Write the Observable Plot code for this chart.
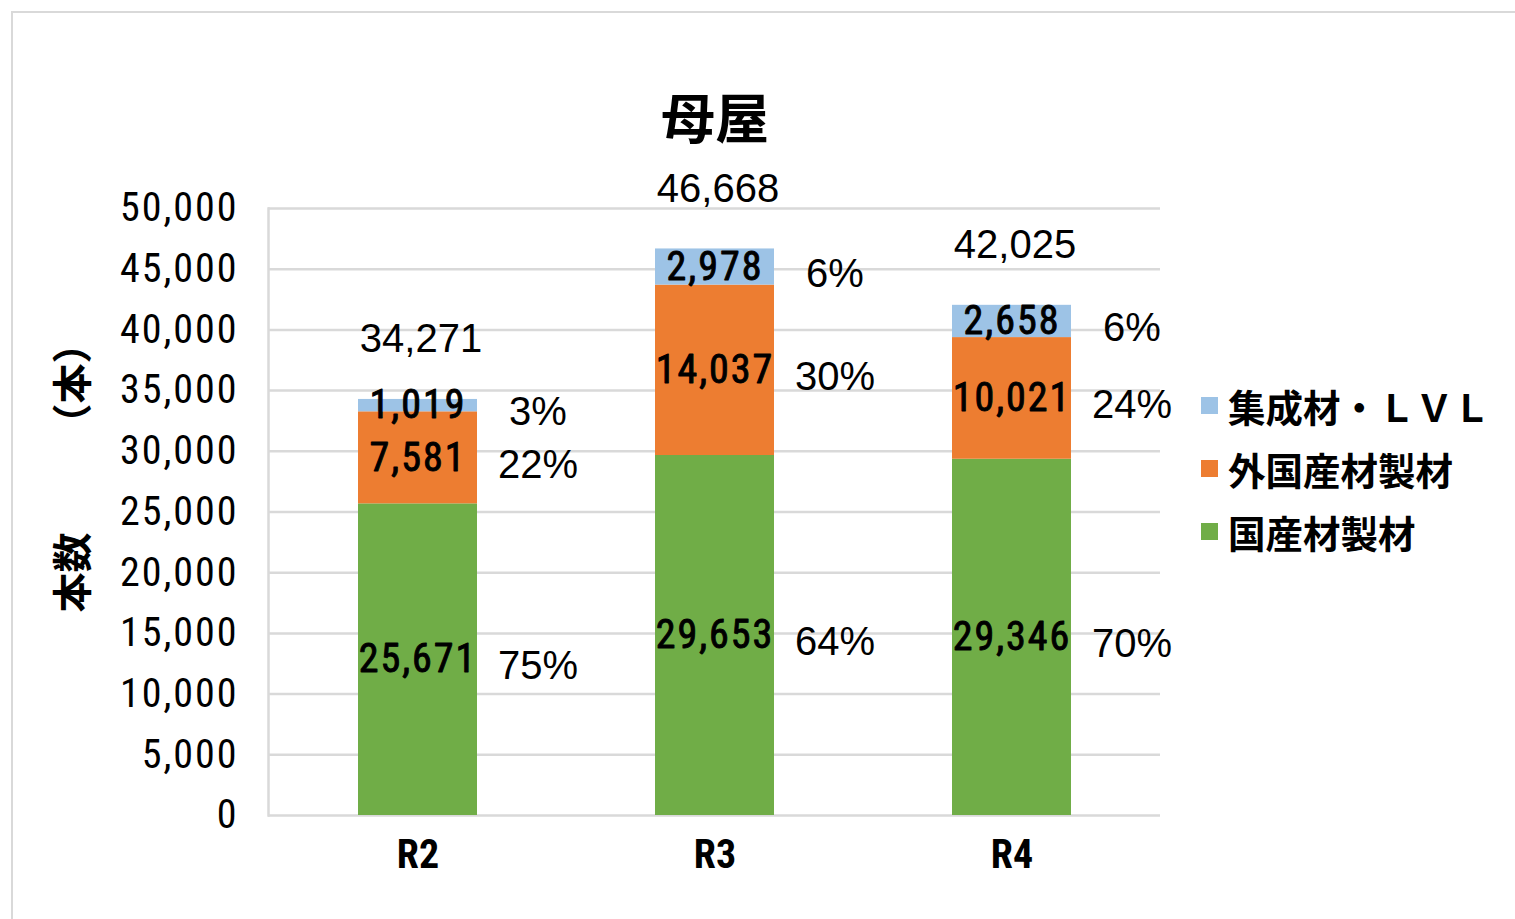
<!DOCTYPE html>
<html>
<head>
<meta charset="utf-8">
<script src="https://cdn.jsdelivr.net/npm/d3@7"></script>
<script src="https://cdn.jsdelivr.net/npm/@observablehq/plot@0.6"></script>
<style>
  html, body { margin: 0; padding: 0; background: #fff; overflow: hidden; }
  #wrap { position: relative; width: 1515px; height: 919px; overflow: hidden; }
  #frame { position: absolute; left: 11px; top: 11px; width: 1600px; height: 1000px; border: 2.5px solid #d9d9d9; box-sizing: border-box; }
  #chart { position: absolute; left: 0; top: 0; }
  #title { position: absolute; left: 715px; top: 115px; transform: translate(-50%, -50%); font-family: "Noto Sans CJK JP", sans-serif; font-weight: bold; font-size: 54px; white-space: nowrap; color: #000; }
  #ylabel { position: absolute; left: 70px; top: 468px; transform: translate(-50%, -50%) rotate(-90deg); font-family: "Noto Sans CJK JP", sans-serif; font-weight: bold; font-size: 40px; white-space: nowrap; color: #000; }
  .leg { position: absolute; left: 1201px; height: 0; display: flex; align-items: center; white-space: nowrap; }
  .leg .sw { width: 17px; height: 17px; margin-right: 10px; flex: none; }
  .leg .tx { font-family: "Noto Sans CJK JP", sans-serif; font-weight: bold; font-size: 37.5px; color: #000; }
</style>
</head>
<body>
<div id="wrap">
  <div id="frame"></div>
  <div id="chart"></div>
  <div id="title"></div>
  <div id="ylabel"></div>
  <div id="legend"></div>
</div>
<script>
const titleText = "母屋";
const yLabelText = "本数　　 （本）";
const categories = ["R2", "R3", "R4"];
const seriesNames = ["国産材製材", "外国産材製材", "集成材・ＬＶＬ"];
const seriesColors = ["#70AD47", "#ED7D31", "#9DC3E6"];
const domestic = [25671, 29653, 29346];
const imported = [7581, 14037, 10021];
const glulam = [1019, 2978, 2658];
const yTicks = [0, 5000, 10000, 15000, 20000, 25000, 30000, 35000, 40000, 45000, 50000];
const legendOrder = ["集成材・ＬＶＬ", "外国産材製材", "国産材製材"];

const seriesValues = [domestic, imported, glulam];
const rows = [];
categories.forEach((c, i) => {
  const total = domestic[i] + imported[i] + glulam[i];
  seriesNames.forEach((s, j) => {
    rows.push({cat: c, series: s, value: seriesValues[j][i], pct: Math.round(seriesValues[j][i] / total * 100) + "%"});
  });
});
const totals = categories.map((c, i) => ({cat: c, total: domestic[i] + imported[i] + glulam[i]}));

const fmt = d3.format(",");
const narrow = "'Liberation Sans Narrow', 'Arial Narrow', 'Roboto Condensed', sans-serif";
const regular = "'Liberation Sans', Arial, sans-serif";

const plot = Plot.plot({
  width: 1515,
  height: 919,
  marginLeft: 268,
  marginRight: 355,
  marginTop: 208,
  marginBottom: 104,
  style: {background: "transparent", color: "#000"},
  x: {domain: categories, paddingInner: 0.6, paddingOuter: 0.3, label: null},
  y: {domain: [0, 50000], label: null},
  color: {domain: seriesNames, range: seriesColors},
  marks: [
    Plot.ruleY(yTicks, {stroke: "#d9d9d9", strokeWidth: 2.5}),
    Plot.frame({anchor: "left", stroke: "#d9d9d9", strokeWidth: 2.5}),
    Plot.barY(rows, Plot.stackY({x: "cat", y: "value", fill: "series", order: seriesNames})),
    Plot.text(rows, Plot.stackY({x: "cat", y: "value", z: "series", order: seriesNames, text: d => fmt(d.value), fontSize: 40, fontFamily: narrow, fill: "#000", stroke: "#000", strokeWidth: 0.9})),
    Plot.text(rows, Plot.stackY({x: "cat", y: "value", z: "series", order: seriesNames, text: "pct", dx: 120, dy: 7, fontSize: 40, fontFamily: regular, fill: "#000"})),
    Plot.text(totals, {x: "cat", y: "total", text: d => fmt(d.total), dy: -60, dx: 3, fontSize: 40, fontFamily: regular, fill: "#000"}),
    Plot.axisY({ticks: yTicks, tickSize: 0, tickPadding: 30, tickFormat: fmt, fontSize: 40, fontFamily: narrow, label: null}),
    Plot.axisX({tickSize: 0, tickPadding: 24, fontSize: 40, fontFamily: narrow, fontWeight: "bold", label: null})
  ]
});
document.getElementById("chart").appendChild(plot);
d3.select(plot).selectAll("g[aria-label='y-axis tick label'] text").attr("letter-spacing", "2px");
d3.select(plot).selectAll("g[aria-label='text']").filter((d, i) => i === 0).selectAll("text").attr("letter-spacing", "2px");

document.getElementById("title").textContent = titleText;
document.getElementById("ylabel").textContent = yLabelText;

const legend = document.getElementById("legend");
const legendY = [405, 468, 531];
legendOrder.forEach((name, i) => {
  const item = document.createElement("div");
  item.className = "leg";
  item.style.top = legendY[i] + "px";
  const sw = document.createElement("div");
  sw.className = "sw";
  sw.style.background = seriesColors[seriesNames.indexOf(name)];
  const tx = document.createElement("div");
  tx.className = "tx";
  tx.textContent = name;
  item.appendChild(sw);
  item.appendChild(tx);
  legend.appendChild(item);
});
</script>
</body>
</html>
